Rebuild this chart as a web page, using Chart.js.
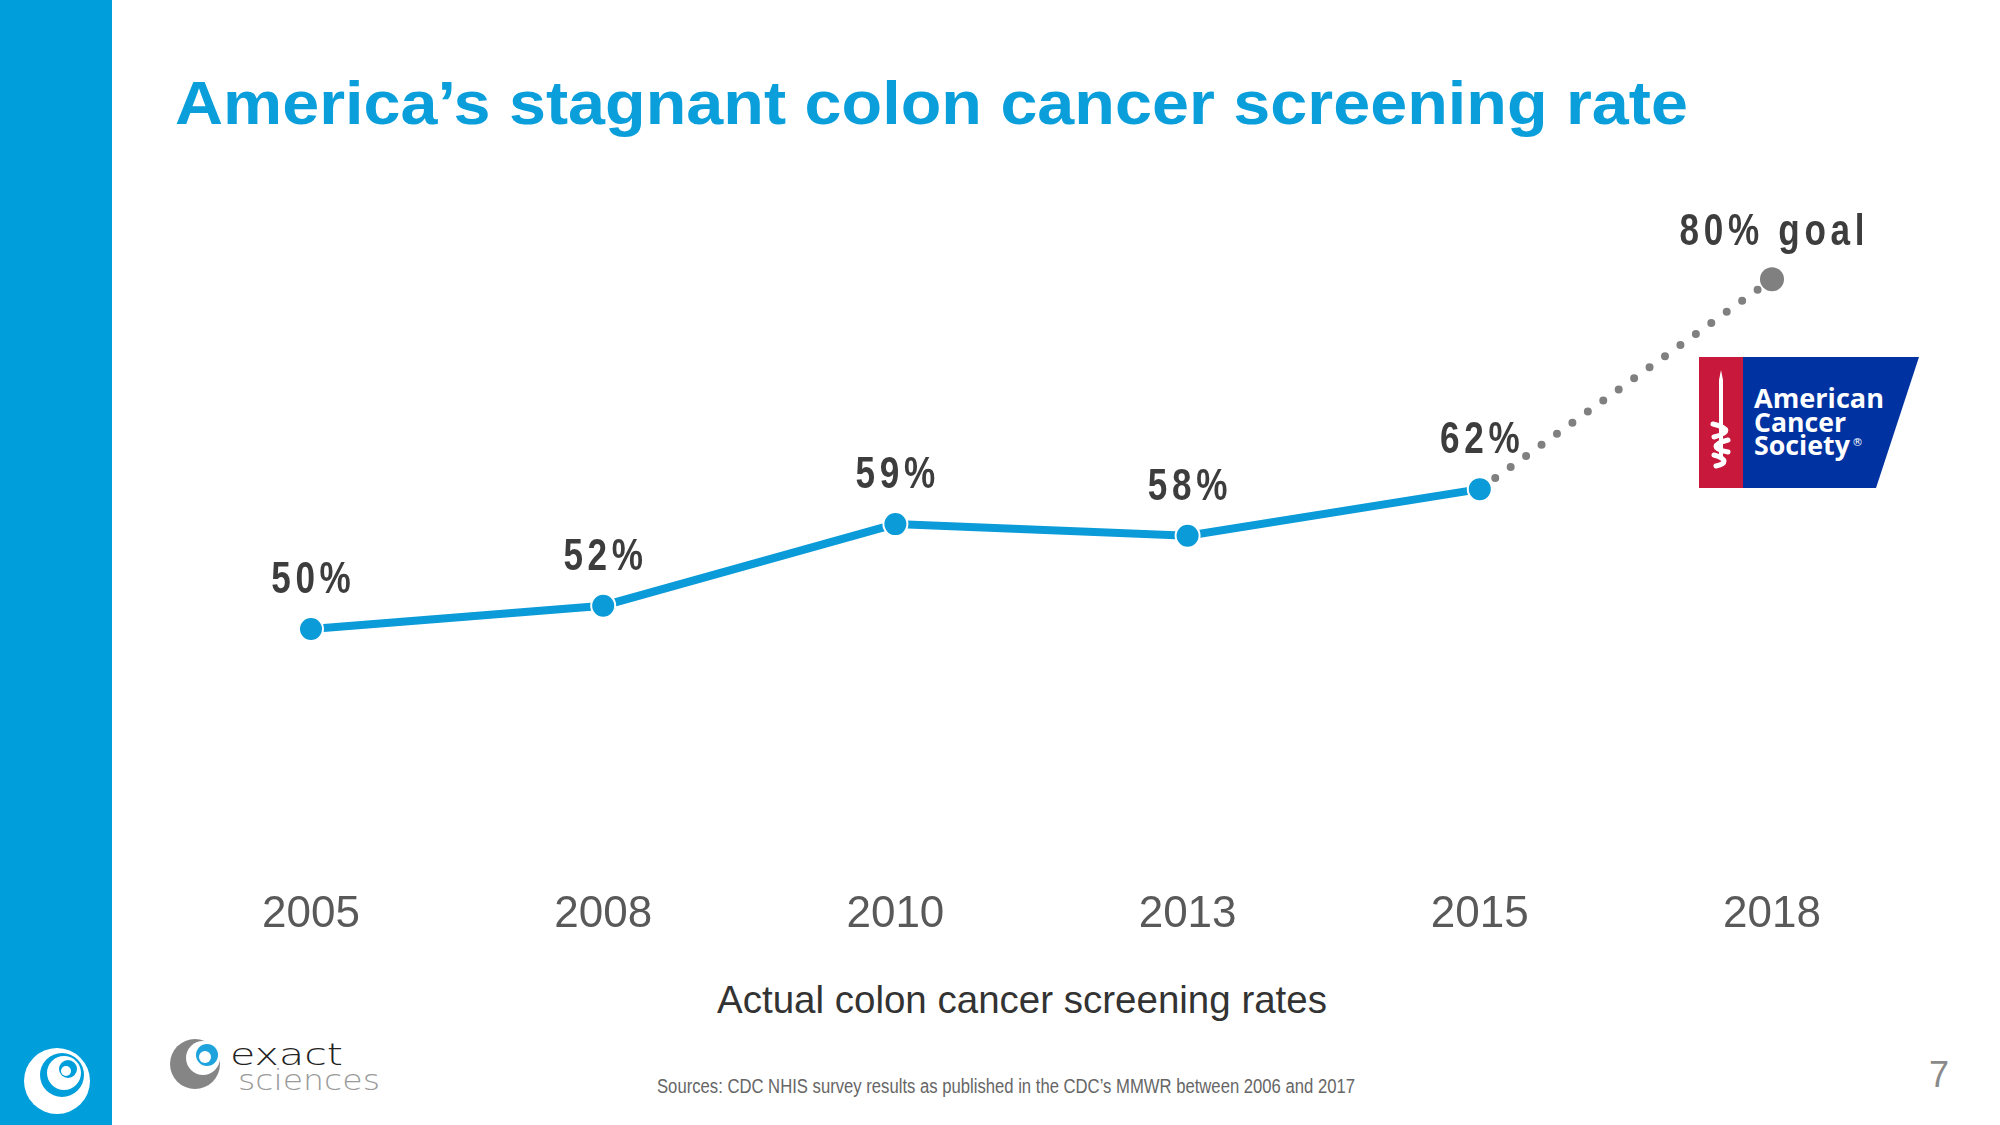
<!DOCTYPE html>
<html>
<head>
<meta charset="utf-8">
<title>America's stagnant colon cancer screening rate</title>
<script src="https://cdn.jsdelivr.net/npm/chart.js@4.4.0/dist/chart.umd.min.js"></script>
<style>
  html, body { margin: 0; padding: 0; background: #ffffff; }
  #page { position: relative; width: 2000px; height: 1125px; overflow: hidden; }
  #deco { position: absolute; left: 0; top: 0; }
  #myChart { position: absolute; left: 0; top: 0; }
</style>
</head>
<body>
<div id="page">
  <svg id="deco" width="2000" height="1125" xmlns="http://www.w3.org/2000/svg">
    <!-- left band + small logo -->
    <rect x="0" y="0" width="112" height="1125" fill="#009fdc"/>
    <circle cx="57" cy="1081" r="33" fill="#ffffff"/>
    <circle cx="62" cy="1075" r="22" fill="#009fdc"/>
    <circle cx="64" cy="1073" r="17" fill="#ffffff"/>
    <circle cx="68" cy="1069" r="9" fill="#009fdc"/>
    <circle cx="66" cy="1071" r="5" fill="#ffffff"/>

    <text x="175" y="124" textLength="1513" lengthAdjust="spacingAndGlyphs"
          font-family="Liberation Sans, Arial, sans-serif" font-weight="bold" font-size="62" fill="#0a9fdb">America’s stagnant colon cancer screening rate</text>

    <text x="717" y="1013" textLength="610" lengthAdjust="spacingAndGlyphs"
          font-family="Liberation Sans, Arial, sans-serif" font-size="39" fill="#333333">Actual colon cancer screening rates</text>

    <text x="657" y="1093" textLength="698" lengthAdjust="spacingAndGlyphs"
          font-family="Liberation Sans, Arial, sans-serif" font-size="20" fill="#666666">Sources: CDC NHIS survey results as published in the CDC’s MMWR between 2006 and 2017</text>

    <text x="1929" y="1087" font-family="Liberation Sans, Arial, sans-serif" font-size="36" fill="#8a8a8a">7</text>

    <!-- exact sciences logo -->
    <circle cx="195" cy="1064" r="25" fill="#858585"/>
    <circle cx="203" cy="1058" r="17" fill="#ffffff"/>
    <circle cx="207" cy="1055" r="11" fill="#1fa3dc"/>
    <circle cx="205" cy="1057" r="6" fill="#ffffff"/>
    <text x="230" y="1065" textLength="113" lengthAdjust="spacingAndGlyphs"
          font-family="DejaVu Sans, sans-serif" font-weight="300" font-size="30" fill="#222222">exact</text>
    <text x="238" y="1090" textLength="142" lengthAdjust="spacingAndGlyphs"
          font-family="DejaVu Sans, sans-serif" font-weight="200" font-size="29" fill="#9a9a9a">sciences</text>

    <!-- American Cancer Society logo -->
    <rect x="1699" y="357" width="44" height="131" fill="#c8193c"/>
    <polygon points="1743,357 1919,357 1876,488 1743,488" fill="#0033a1"/>
    <polygon points="1719,380 1721,370 1723,380 1723,458 1719,458" fill="#ffffff"/>
    <path d="M1713,424 C1730,428 1730,433 1714,437 M1728,440 C1712,444 1712,449 1728,452 M1714,455 C1728,459 1726,464 1716,466"
          stroke="#ffffff" stroke-width="5" fill="none" stroke-linecap="round"/>
    <text font-family="Open Sans, DejaVu Sans, sans-serif" font-weight="bold" font-size="26" fill="#ffffff">
      <tspan x="1754" y="408" textLength="130" lengthAdjust="spacingAndGlyphs">American</tspan>
      <tspan x="1754" y="432" textLength="92" lengthAdjust="spacingAndGlyphs">Cancer</tspan>
      <tspan x="1754" y="455" textLength="96" lengthAdjust="spacingAndGlyphs">Society</tspan>
    </text>
    <text x="1852" y="446" font-family="DejaVu Sans, sans-serif" font-size="11" fill="#ffffff">®</text>
  </svg>
  <canvas id="myChart" width="2000" height="1125"></canvas>
</div>

<script>
// chart data
const years = ['2005', '2008', '2010', '2013', '2015', '2018'];
const actualRates = [50, 52, 59, 58, 62, null];
const goalPath = [null, null, null, null, 62, 80];
const rateLabels = ['50%', '52%', '59%', '58%', '62%', null];
const goalLabels = [null, null, null, null, null, '80% goal'];

const blue = '#0a9bd8';
const grey = '#808080';

// draws the % labels above the points
const pointLabels = {
    id: 'pointLabels',
    afterDatasetsDraw(chart) {
        const ctx = chart.ctx;
        const sets = [[0, rateLabels, 36], [1, goalLabels, 34]];
        sets.forEach(function (s) {
            const meta = chart.getDatasetMeta(s[0]);
            meta.data.forEach(function (pt, i) {
                const txt = s[1][i];
                if (!txt) return;
                ctx.save();
                ctx.translate(pt.x, pt.y - s[2]);
                ctx.scale(0.78, 1);
                ctx.font = 'bold 45px "Liberation Sans", Arial, sans-serif';
                ctx.fillStyle = '#3d3d3d';
                ctx.textAlign = 'center';
                ctx.textBaseline = 'alphabetic';
                if ('letterSpacing' in ctx) ctx.letterSpacing = '6px';
                ctx.fillText(txt, 3, 0);
                ctx.restore();
            });
        });
    }
};

var ctx = document.getElementById('myChart').getContext('2d');
var myChart = new Chart(ctx, {
    type: 'line',
    data: {
        labels: years,
        datasets: [{
            label: 'Actual',
            data: actualRates,
            borderColor: blue,
            backgroundColor: blue,
            borderWidth: 8,
            pointRadius: 12,
            pointBackgroundColor: blue,
            pointBorderColor: '#ffffff',
            pointBorderWidth: 2,
            fill: false,
            tension: 0
        }, {
            label: 'Goal',
            data: goalPath,
            borderColor: grey,
            borderWidth: 8,
            borderDash: [0, 19],
            borderCapStyle: 'round',
            pointRadius: [0, 0, 0, 0, 0, 12],
            pointBackgroundColor: grey,
            pointBorderWidth: 0,
            fill: false,
            tension: 0
        }]
    },
    options: {
        responsive: false,
        animation: false,
        devicePixelRatio: 1,
        layout: { padding: { left: 311, right: 228, top: 221, bottom: 158 } },
        plugins: { legend: { display: false }, tooltip: { enabled: false } },
        scales: {
            y: { display: false, min: 30, max: 85 },
            x: {
                offset: false,
                grid: { display: false, drawTicks: false },
                border: { display: false },
                ticks: {
                    padding: 26,
                    color: '#595959',
                    font: { family: '"Liberation Sans", Arial, sans-serif', size: 44 }
                }
            }
        }
    },
    plugins: [pointLabels]
});
</script>
</body>
</html>
